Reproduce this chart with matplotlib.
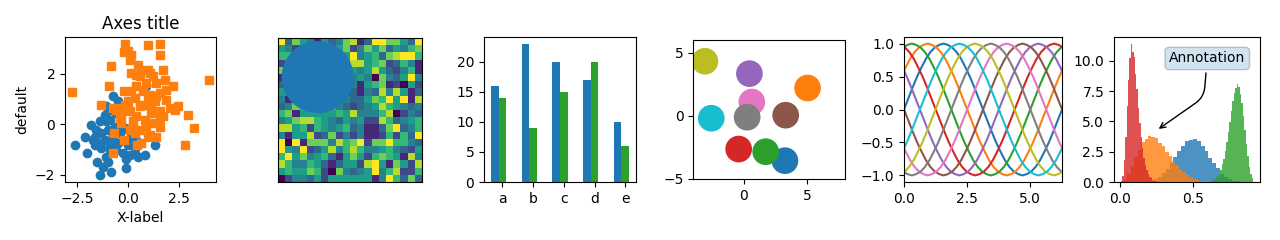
import numpy as np
import matplotlib
matplotlib.use('Agg')
import matplotlib.pyplot as plt

# ---- data ----
# scatter: blue circles / orange squares
blue_x = [-2.61, -2.12, -1.99, -1.80, -1.55, -1.63, -1.50, -1.39, -1.23, -0.82, -0.11, -1.06,
          -1.14, -1.31, -1.39, -1.14, -0.90, -0.74, -0.49, -0.90, -0.65, -0.98, -0.90, -0.49,
          -0.25, 0.08, 0.49, 0.82, 0.33, 0.00, 1.31, -0.57, -1.31, -0.74, -0.41, -0.16, 0.16,
          0.41, -1.63, -1.72, -1.06, -0.57, -0.33, -0.98, -0.08, -1.06, 0.90, -0.90, 0.33, -1.47]
blue_y = [-0.83, -0.49, -1.16, -0.03, -0.23, -0.83, -1.49, -2.03, -1.69, -1.89, -1.73, -1.29,
          -0.63, -0.36, 0.11, 0.37, 0.57, 1.11, 0.91, 0.17, -0.09, -0.23, -0.83, -0.76,
          -1.16, -1.23, -1.29, -1.23, -0.96, -0.83, -0.83, -1.03, -0.96, -0.49, -0.36, -0.16, -0.49,
          -0.63, -0.49, -0.63, 0.71, 0.44, -0.23, -1.49, -1.36, 0.11, 1.50, -1.03, -1.16, -0.76]
orange_x = [-2.75, 3.97, -0.13, 0.98, 1.55, 1.55, -0.20, 0.08, -0.85, 0.13, -0.93, -0.20, -1.31,
            -0.74, -0.33, -0.70, -0.20, -0.74, 0.46, 2.78, 3.24, 2.94, 2.45, 2.21, 1.80, 1.72,
            0.98, 0.57, 0.41, 0.74, 1.06, 1.39, 1.55, 1.88, 2.04, 1.55, 1.14, 0.74, 0.33, 0.00,
            0.08, 0.41, 0.82, 1.23, 1.55, 1.39, 0.98, 0.57, 0.25, -0.33, -0.33, 0.57, 0.98, 1.31,
            0.90, 1.23, 0.65, 0.41, 1.88, 2.29, 1.72, -0.16, -0.57, 0.25, 0.65, 1.06, 1.55, 0.00,
            0.16, 0.49, 1.06, 0.00, 0.16, 1.39, 0.90, 0.33, 0.08, 1.14, -0.41]
orange_y = [1.28, 1.77, 3.17, 3.13, 3.20, 2.73, 2.87, 2.55, 2.33, 2.04, 1.53, 1.31, 0.77,
            0.64, 0.64, -0.36, -0.63, -1.16, -0.83, -0.83, -0.16, 0.37, 0.71, 1.51, 1.77, 2.17,
            2.17, 1.91, 1.51, 1.31, 1.17, 1.64, 1.24, 0.97, 0.64, 0.51, 0.44, 0.77, 1.04, 0.91,
            0.51, 0.31, 0.17, 0.04, -0.09, -0.49, -0.49, -0.23, -0.09, 0.04, 0.37, 0.71, 0.97, 0.91,
            1.64, 1.91, 2.17, 1.97, 1.37, 0.57, 0.31, 0.77, 0.57, 0.11, -0.76, -0.43, 0.24, 0.57,
            1.31, 2.37, 2.04, 2.91, 2.73, 1.11, -0.09, -0.36, -0.23, 0.71, 0.24]

# 20x20 image (0..9 levels)
image_vals = [
    [9, 3, 7, 5, 4, 1, 5, 3, 4, 7, 8, 1, 3, 9, 9, 7, 7, 5, 3, 9],
    [5, 4, 2, 6, 3, 2, 2, 3, 5, 7, 2, 4, 7, 5, 7, 3, 5, 4, 6, 7],
    [6, 6, 3, 4, 3, 3, 3, 3, 7, 5, 9, 4, 5, 6, 3, 7, 8, 9, 9, 6],
    [2, 4, 6, 5, 3, 5, 7, 5, 5, 6, 8, 8, 5, 6, 7, 2, 3, 6, 4, 1],
    [7, 5, 4, 3, 6, 2, 7, 7, 6, 8, 5, 4, 5, 8, 5, 3, 2, 4, 6, 1],
    [1, 2, 4, 6, 7, 5, 7, 6, 5, 7, 4, 5, 4, 0, 7, 4, 3, 5, 9, 4],
    [3, 2, 2, 4, 4, 6, 3, 7, 5, 6, 4, 1, 5, 6, 7, 1, 2, 0, 5, 2],
    [5, 5, 5, 6, 7, 3, 0, 3, 6, 2, 3, 1, 4, 3, 8, 4, 8, 5, 1, 3],
    [4, 1, 4, 0, 6, 2, 1, 2, 4, 4, 3, 3, 5, 7, 6, 9, 5, 9, 1, 8],
    [3, 4, 7, 6, 6, 3, 4, 6, 4, 3, 2, 3, 4, 5, 8, 6, 5, 4, 3, 4],
    [6, 7, 1, 5, 5, 5, 5, 5, 6, 5, 8, 4, 4, 4, 6, 8, 0, 2, 4, 3],
    [4, 5, 7, 8, 8, 6, 5, 4, 3, 5, 4, 5, 2, 2, 8, 6, 3, 4, 5, 6],
    [8, 8, 5, 6, 2, 6, 5, 4, 5, 6, 3, 4, 1, 1, 3, 7, 9, 3, 4, 6],
    [4, 1, 5, 5, 8, 2, 3, 7, 2, 4, 2, 4, 1, 1, 2, 6, 2, 6, 3, 9],
    [9, 0, 9, 1, 7, 7, 7, 4, 8, 6, 7, 9, 2, 7, 7, 9, 6, 6, 4, 3],
    [9, 5, 4, 9, 2, 3, 5, 8, 4, 6, 8, 6, 4, 4, 5, 6, 4, 3, 2, 5],
    [6, 9, 5, 7, 4, 5, 6, 3, 1, 5, 7, 5, 2, 6, 7, 6, 5, 1, 8, 4],
    [8, 6, 4, 4, 6, 5, 3, 1, 3, 5, 5, 2, 8, 9, 5, 1, 7, 5, 2, 8],
    [5, 6, 5, 5, 7, 6, 2, 0, 7, 4, 3, 4, 5, 9, 4, 6, 8, 2, 2, 6],
    [0, 2, 4, 4, 3, 5, 2, 5, 5, 5, 5, 5, 5, 1, 4, 9, 6, 3, 7, 3],
]

# bars
bar_labels = ['a', 'b', 'c', 'd', 'e']
bar_a = [16, 23, 20, 17, 10]
bar_b = [14, 9, 15, 20, 6]

# circles (centres, colour index follows the cycle)
circle_x = [3.26, 5.05, 1.74, -0.40, 0.45, 3.32, 0.64, 0.27, -3.07, -2.57]
circle_y = [-3.55, 2.20, -2.84, -2.63, 3.34, 0.05, 1.09, -0.11, 4.32, -0.19]
circle_xticks = [0, 5]
circle_yticks = [-5, 0, 5]

# sinusoids: one period sampled every 10 degrees, plus the phase of each line
wave_half = [0.0, 0.17, 0.34, 0.50, 0.64, 0.77, 0.87, 0.94, 0.98,
             1.0, 0.98, 0.94, 0.87, 0.77, 0.64, 0.50, 0.34, 0.17]
wave_phase = [0.0, 0.63, 1.26, 1.88, 2.51, 3.14, 3.77, 4.40, 5.03, 5.65]

# histograms: (first edge, bin width, 30 density heights)
hist_blue = (0.10, 0.02667, [0.004, 0.008, 0.02, 0.05, 0.12, 0.25, 0.45, 0.71, 1.08, 1.60,
                             2.03, 2.60, 2.97, 3.38, 3.45, 3.53, 3.36, 2.94, 2.60, 2.02,
                             1.55, 1.14, 0.70, 0.45, 0.23, 0.12, 0.05, 0.02, 0.008, 0.004])
hist_orange = (0.005, 0.0235, [0.03, 0.22, 0.70, 1.30, 2.07, 2.68, 3.27, 3.58, 3.80, 3.72,
                               3.61, 3.26, 2.95, 2.50, 2.15, 1.70, 1.39, 1.04, 0.80, 0.57,
                               0.42, 0.27, 0.19, 0.12, 0.07, 0.05, 0.02, 0.013, 0.004, 0.004])
hist_green = (0.605, 0.01033, [0.03, 0.06, 0.09, 0.14, 0.22, 0.35, 0.50, 0.75, 1.03, 1.46,
                               1.92, 2.58, 3.28, 4.13, 4.95, 5.87, 6.66, 7.36, 7.78, 8.05,
                               7.83, 7.27, 6.50, 5.42, 4.29, 3.11, 2.12, 1.24, 0.67, 0.31])
hist_red = (0.007, 0.00967, [0.06, 0.52, 1.80, 3.75, 6.30, 8.45, 10.2, 11.4, 10.7, 10.3,
                             8.9, 7.7, 6.1, 4.9, 3.7, 2.8, 1.95, 1.42, 0.95, 0.66,
                             0.42, 0.29, 0.17, 0.11, 0.07, 0.04, 0.03, 0.01, 0.01, 0.01])

# ---- figure ----
W, H = 1280, 240
fig = plt.figure(figsize=(12.8, 2.4), dpi=100)


def box(x0, x1, y0, y1):
    # pixel box (y from top) -> figure fraction
    return [x0 / W, (H - y1) / H, (x1 - x0) / W, (y1 - y0) / H]


# 1. scatter
ax = fig.add_axes(box(65, 216, 37, 182))
ax.plot(blue_x, blue_y, ls='none', marker='o')
ax.plot(orange_x, orange_y, ls='none', marker='s')
ax.set_xlabel('X-label')
ax.set_title('Axes title')
ax.set_ylabel('default')

# 2. image + patch
ax = fig.add_axes(box(278, 422, 37, 182))
ax.imshow(np.array(image_vals), interpolation='none')
ax.add_patch(plt.Circle((5, 5), radius=5))
ax.set_xticks([])
ax.set_yticks([])

# 3. bars
ax = fig.add_axes(box(484, 636, 37, 182))
x = np.arange(len(bar_labels))
width = 0.25
ax.bar(x, bar_a, width)
ax.bar(x + width, bar_b, width, color='C2')
ax.set_xticks(x + width, labels=bar_labels)

# 4. circles
ax = fig.add_axes(box(693, 845, 40, 179))
for k, (cx, cy) in enumerate(zip(circle_x, circle_y)):
    ax.add_patch(plt.Circle((cx, cy), radius=1.0, color=f'C{k}'))
ax.set_xlim([-4, 8])
ax.set_ylim([-5, 6])
ax.set_xticks(circle_xticks)
ax.set_yticks(circle_yticks)
ax.set_aspect('equal', adjustable='box')

# 5. sinusoids
ax = fig.add_axes(box(904, 1062, 37, 182))
period = wave_half + [-v for v in wave_half]
wave_y = np.array(period * 2 + [0.0])
wave_x = np.arange(len(wave_y)) * np.deg2rad(10)
for s in wave_phase:
    ax.plot(wave_x - s, wave_y, '-')
ax.set_xlim([0, 2 * np.pi])

# 6. histograms
ax = fig.add_axes(box(1114, 1260, 37, 182))
for start, w, heights in (hist_blue, hist_orange, hist_green, hist_red):
    edges = start + w * np.arange(len(heights) + 1)
    centers = edges[:-1] + w / 2
    ax.hist(centers, bins=edges, weights=heights, histtype='stepfilled', alpha=0.8)
ax.annotate('Annotation', xy=(0.25, 4.25),
            xytext=(0.9, 0.9), textcoords=ax.transAxes,
            va='top', ha='right',
            bbox=dict(boxstyle='round', alpha=0.2),
            arrowprops=dict(arrowstyle='->',
                            connectionstyle='angle,angleA=-95,angleB=35,rad=10'))

fig.savefig('out.png', dpi=100)
